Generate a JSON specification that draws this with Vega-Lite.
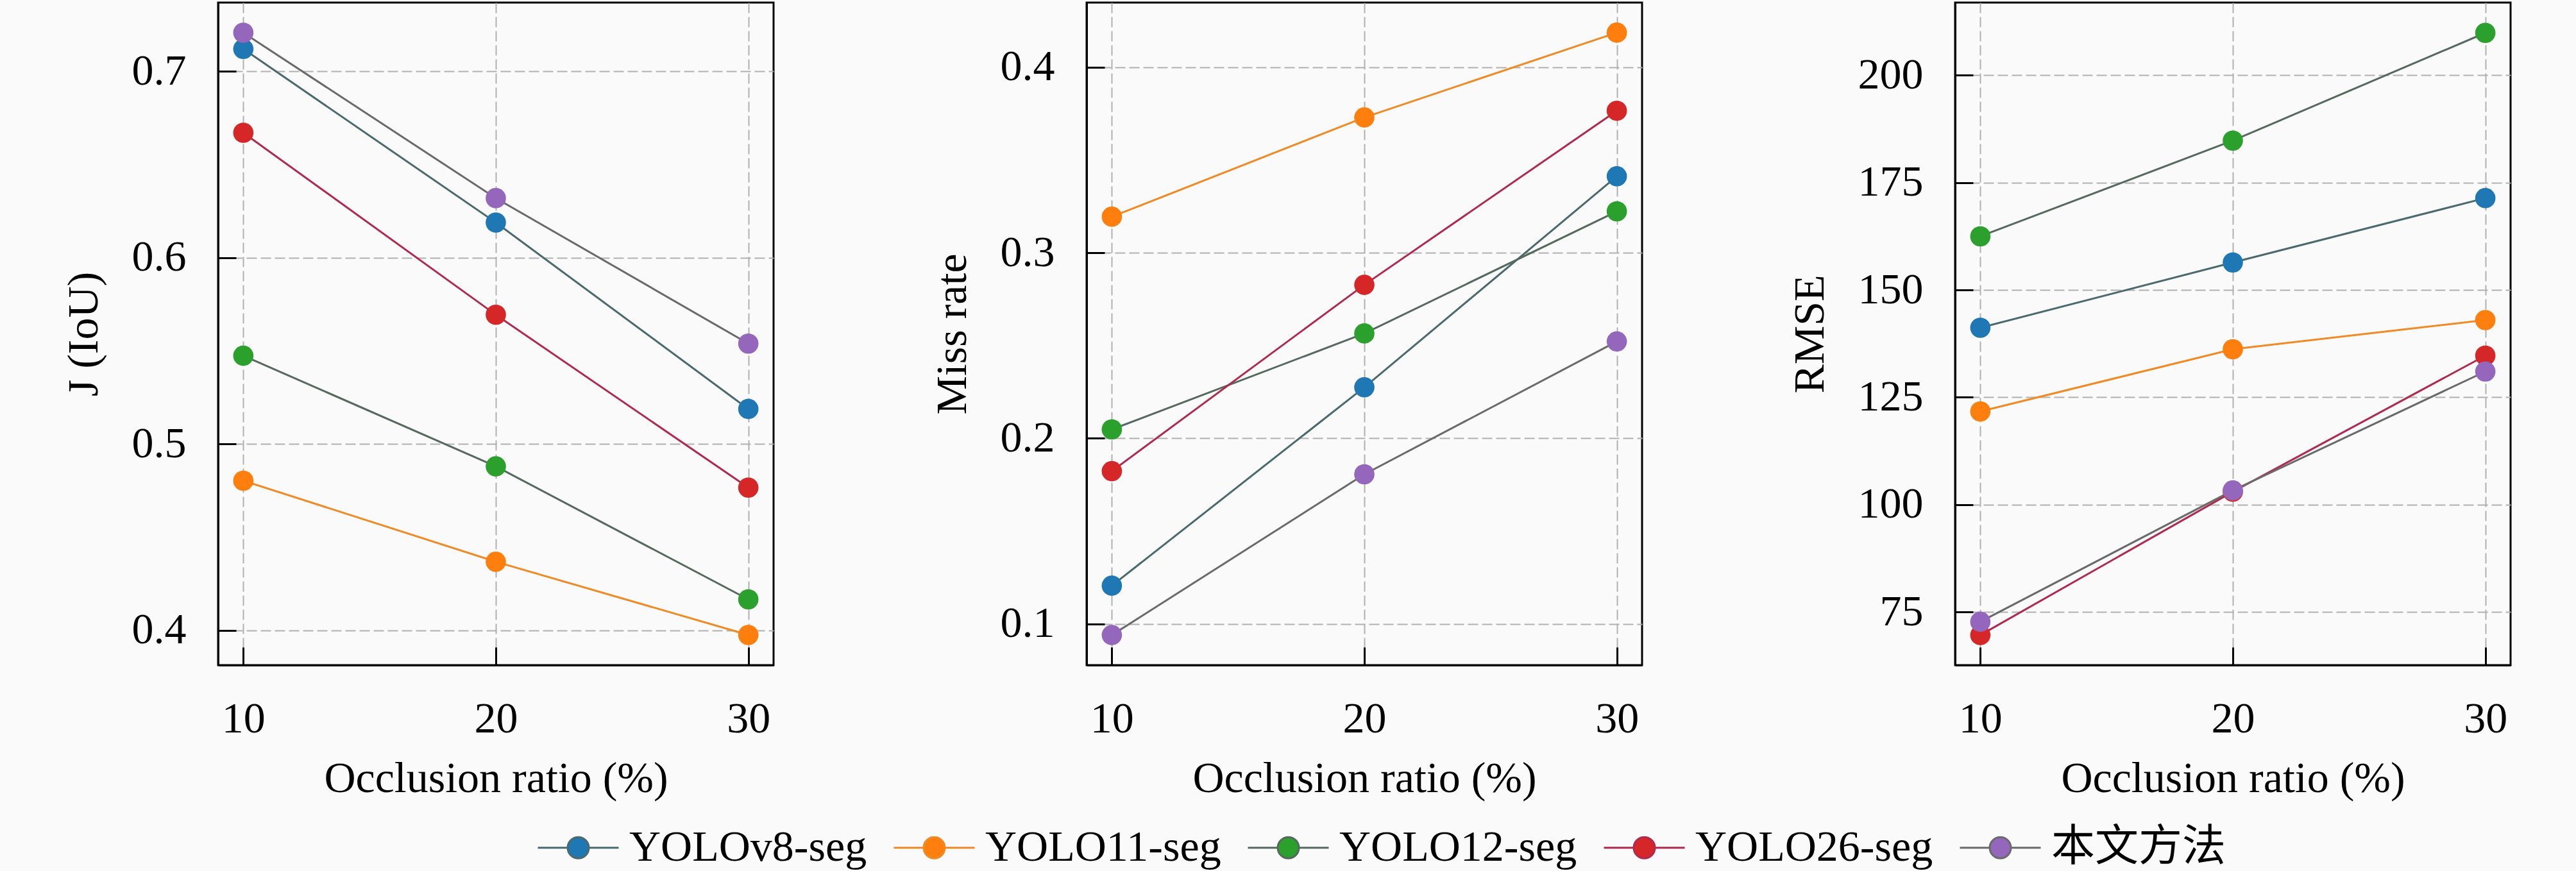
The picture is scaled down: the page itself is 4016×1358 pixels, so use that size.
{
  "$schema": "https://vega.github.io/schema/vega-lite/v6.json",
  "background": "#fafafa",
  "padding": {"left": 95, "top": 2, "right": 105, "bottom": 95},
  "bounds": "flush",
  "spacing": 488,
  "data": {
    "values": [
      {"model": "YOLOv8-seg", "ratio": 10, "J": 0.7121, "MR": 0.1206, "RMSE": 141.2},
      {"model": "YOLOv8-seg", "ratio": 20, "J": 0.6189, "MR": 0.2275, "RMSE": 156.4},
      {"model": "YOLOv8-seg", "ratio": 30, "J": 0.5188, "MR": 0.3412, "RMSE": 171.4},
      {"model": "YOLO11-seg", "ratio": 10, "J": 0.4803, "MR": 0.3194, "RMSE": 121.7},
      {"model": "YOLO11-seg", "ratio": 20, "J": 0.4368, "MR": 0.3729, "RMSE": 136.2},
      {"model": "YOLO11-seg", "ratio": 30, "J": 0.3975, "MR": 0.4186, "RMSE": 143.0},
      {"model": "YOLO12-seg", "ratio": 10, "J": 0.5474, "MR": 0.2048, "RMSE": 162.5},
      {"model": "YOLO12-seg", "ratio": 20, "J": 0.4880, "MR": 0.2565, "RMSE": 184.8},
      {"model": "YOLO12-seg", "ratio": 30, "J": 0.4166, "MR": 0.3223, "RMSE": 209.9},
      {"model": "YOLO26-seg", "ratio": 10, "J": 0.6671, "MR": 0.1823, "RMSE": 69.6},
      {"model": "YOLO26-seg", "ratio": 20, "J": 0.5694, "MR": 0.2827, "RMSE": 103.0},
      {"model": "YOLO26-seg", "ratio": 30, "J": 0.4766, "MR": 0.3765, "RMSE": 134.7},
      {"model": "本文方法", "ratio": 10, "J": 0.7208, "MR": 0.0940, "RMSE": 72.7},
      {"model": "本文方法", "ratio": 20, "J": 0.6320, "MR": 0.1806, "RMSE": 103.3},
      {"model": "本文方法", "ratio": 30, "J": 0.5539, "MR": 0.2522, "RMSE": 131.0}
    ]
  },
  "hconcat": [
    {
      "width": 866,
      "height": 1033,
      "encoding": {
        "x": {"field": "ratio", "type": "quantitative", "scale": {"domain": [9, 31], "nice": false},
              "axis": {"values": [10, 20, 30], "format": "d", "title": "Occlusion ratio (%)"}},
        "y": {"field": "J", "type": "quantitative", "scale": {"domain": [0.3813, 0.737], "nice": false, "zero": false},
              "axis": {"values": [0.4, 0.5, 0.6, 0.7], "format": ".1f", "title": "J (IoU)"}}
      },
      "layer": [
        {
          "mark": {"type": "line", "strokeWidth": 3},
          "encoding": {
            "stroke": {"field": "model", "type": "nominal",
              "scale": {"domain": ["YOLOv8-seg", "YOLO11-seg", "YOLO12-seg", "YOLO26-seg", "本文方法"],
                        "range": ["#4a6a6e", "#f08a24", "#56695e", "#b02a50", "#6a6a6a"]}}
          }
        },
        {
          "mark": {"type": "point", "filled": true, "size": 1000, "opacity": 1},
          "encoding": {
            "color": {"field": "model", "type": "nominal",
              "scale": {"domain": ["YOLOv8-seg", "YOLO11-seg", "YOLO12-seg", "YOLO26-seg", "本文方法"],
                        "range": ["#1f77b4", "#ff7f0e", "#2ca02c", "#d62728", "#9467bd"]}}
          }
        }
      ]
    },
    {
      "width": 866,
      "height": 1033,
      "encoding": {
        "x": {"field": "ratio", "type": "quantitative", "scale": {"domain": [9, 31], "nice": false},
              "axis": {"values": [10, 20, 30], "format": "d", "title": "Occlusion ratio (%)"}},
        "y": {"field": "MR", "type": "quantitative", "scale": {"domain": [0.0778, 0.4348], "nice": false, "zero": false},
              "axis": {"values": [0.1, 0.2, 0.3, 0.4], "format": ".1f", "title": "Miss rate"}}
      },
      "layer": [
        {
          "mark": {"type": "line", "strokeWidth": 3},
          "encoding": {
            "stroke": {"field": "model", "type": "nominal",
              "scale": {"domain": ["YOLOv8-seg", "YOLO11-seg", "YOLO12-seg", "YOLO26-seg", "本文方法"],
                        "range": ["#4a6a6e", "#f08a24", "#56695e", "#b02a50", "#6a6a6a"]}}
          }
        },
        {
          "mark": {"type": "point", "filled": true, "size": 1000, "opacity": 1},
          "encoding": {
            "color": {"field": "model", "type": "nominal",
              "scale": {"domain": ["YOLOv8-seg", "YOLO11-seg", "YOLO12-seg", "YOLO26-seg", "本文方法"],
                        "range": ["#1f77b4", "#ff7f0e", "#2ca02c", "#d62728", "#9467bd"]}}
          }
        }
      ]
    },
    {
      "width": 866,
      "height": 1033,
      "encoding": {
        "x": {"field": "ratio", "type": "quantitative", "scale": {"domain": [9, 31], "nice": false},
              "axis": {"values": [10, 20, 30], "format": "d", "title": "Occlusion ratio (%)"}},
        "y": {"field": "RMSE", "type": "quantitative", "scale": {"domain": [62.6, 216.96], "nice": false, "zero": false},
              "axis": {"values": [75, 100, 125, 150, 175, 200], "format": "d", "title": "RMSE"}}
      },
      "layer": [
        {
          "mark": {"type": "line", "strokeWidth": 3},
          "encoding": {
            "stroke": {"field": "model", "type": "nominal",
              "scale": {"domain": ["YOLOv8-seg", "YOLO11-seg", "YOLO12-seg", "YOLO26-seg", "本文方法"],
                        "range": ["#4a6a6e", "#f08a24", "#56695e", "#b02a50", "#6a6a6a"]}}
          }
        },
        {
          "mark": {"type": "point", "filled": true, "size": 1000, "opacity": 1},
          "encoding": {
            "color": {"field": "model", "type": "nominal",
              "scale": {"domain": ["YOLOv8-seg", "YOLO11-seg", "YOLO12-seg", "YOLO26-seg", "本文方法"],
                        "range": ["#1f77b4", "#ff7f0e", "#2ca02c", "#d62728", "#9467bd"]}}
          }
        }
      ]
    }
  ],
  "config": {
    "font": "Liberation Serif",
    "view": {"stroke": "black", "strokeWidth": 3},
    "legend": {
      "title": null,
      "orient": "none",
      "legendX": 497,
      "legendY": 1253,
      "direction": "horizontal",
      "symbolType": "M-1,0H-0.262M0.262,0H1M-0.262,0A0.262,0.262 0 1,1 0.262,0A0.262,0.262 0 1,1 -0.262,0Z",
      "symbolSize": 15876,
      "symbolStrokeWidth": 3,
      "symbolOpacity": 1,
      "labelFont": "'Liberation Serif', 'Noto Sans CJK SC', serif",
      "labelFontSize": 68,
      "labelColor": "black",
      "labelOffset": 15,
      "labelLimit": 1000,
      "columnPadding": 35
    },
    "axis": {
      "labelFont": "Liberation Serif",
      "labelFontSize": 68,
      "labelColor": "black",
      "titleFont": "Liberation Serif",
      "titleFontSize": 68,
      "titleFontWeight": "normal",
      "titleColor": "black",
      "domainColor": "black",
      "domainWidth": 3,
      "tickColor": "black",
      "tickWidth": 3,
      "tickSize": -28,
      "labelPadding": 78,
      "grid": true,
      "gridColor": "#b0b0b0",
      "gridWidth": 2,
      "gridDash": [16, 6],
      "gridOpacity": 1
    },
    "axisX": {"titlePadding": 25},
    "axisY": {"titlePadding": 40}
  }
}
